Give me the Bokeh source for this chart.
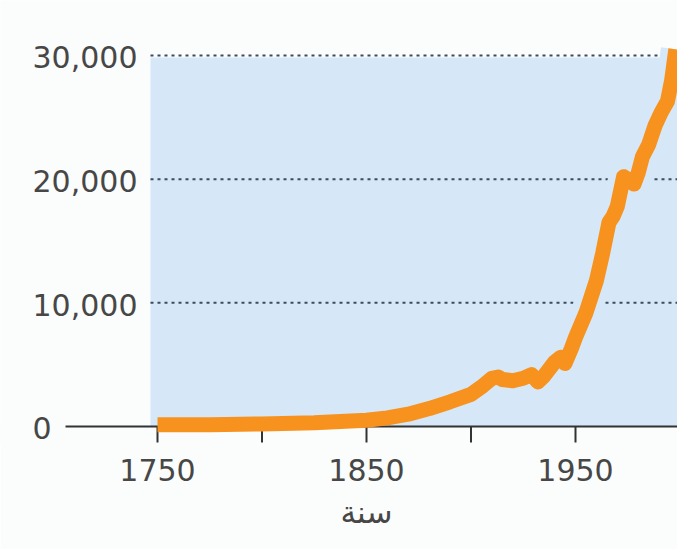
from bokeh.plotting import figure
from bokeh.models import Range1d, FixedTicker, Title
from bokeh.core.properties import value
from bokeh.embed import file_html
from bokeh.resources import INLINE

# ---- data ----
years = [1750, 1775, 1800, 1825, 1850, 1860, 1870, 1880, 1890, 1900, 1905, 1910,
         1913, 1915, 1920, 1925, 1929, 1932, 1935, 1940, 1943, 1945, 1948, 1950,
         1955, 1960, 1963, 1966, 1968, 1970, 1973, 1975, 1978, 1980, 1982, 1985,
         1988, 1991, 1994, 1996, 1998]
values = [150, 150, 200, 300, 500, 700, 1000, 1450, 2000, 2600, 3200, 3900,
          4000, 3800, 3700, 3900, 4200, 3600, 4100, 5200, 5600, 5100, 6300, 7200,
          9200, 11800, 14000, 16500, 17000, 17800, 20200, 20000, 19600, 20500, 21800, 22800,
          24300, 25400, 26300, 28000, 30500]
x_ticks = [1750, 1800, 1850, 1900, 1950]
x_tick_labels = {1800: "", 1900: ""}
y_ticks = [0, 10000, 20000, 30000]
y_tick_labels = ["0", "10,000", "20,000", "30,000"]
x_title = "سنة"

BLUE = "#d6e8f8"
BG = "#fbfcfc"
ORANGE = "#f7921e"
TXT = "#474747"
DARK = "#333333"

p = figure(width=677, height=549, output_backend="svg", toolbar_location=None,
           x_range=Range1d(1674.88, 1998.8), y_range=Range1d(-1375, 34447),
           y_axis_location=None, min_border_left=0, min_border_right=0,
           min_border_top=0, min_border_bottom=106,
           background_fill_color=BG, border_fill_color=BG)
p.outline_line_color = None
p.grid.visible = False

# blue panel
p.quad(left=1746.65, right=2010, bottom=0, top=29838, fill_color=BLUE, line_color=None)

# dotted grid lines
for yv in y_ticks[1:]:
    p.segment(x0=1746.65, y0=yv, x1=2010, y1=yv, line_color="#3d4b5c",
              line_width=2, line_dash="3 4")

# halo under curve
p.line(years, values, line_color=BLUE, line_width=30, line_join="round", line_cap="butt")
# page colour below the zero line
p.quad(left=1670, right=2010, bottom=-5000, top=0, fill_color=BG, line_color=None)

# baseline and ticks
p.segment(x0=1705.98, y0=0, x1=2010, y1=0, line_color=DARK, line_width=2)
p.segment(x0=x_ticks, y0=[0] * len(x_ticks), x1=x_ticks, y1=[-1294] * len(x_ticks),
          line_color=DARK, line_width=2)

# main curve
p.line(years, values, line_color=ORANGE, line_width=15, line_join="round", line_cap="butt")

# y tick labels (left aligned)
p.text(x=[1690.19] * len(y_ticks), y=y_ticks, text=y_tick_labels, y_offset=2,
       text_align="left", text_baseline="middle",
       text_font=value("DejaVu Sans"), text_font_size="30px", text_color=TXT)

# x axis (labels only)
ax = p.xaxis[0]
ax.ticker = FixedTicker(ticks=x_ticks)
ax.major_label_overrides = x_tick_labels
ax.axis_line_color = None
ax.major_tick_line_color = None
ax.major_tick_in = 0
ax.major_tick_out = 0
ax.minor_tick_line_color = None
ax.major_label_standoff = 15
ax.major_label_text_font = "DejaVu Sans"
ax.major_label_text_font_size = "30px"
ax.major_label_text_color = TXT

p.add_layout(Title(text=x_title, align="left", offset=340, standoff=16,
                   text_font="DejaVu Sans", text_font_size="31px",
                   text_font_style="normal", text_color=TXT), "below")

open("out.html", "w").write(file_html(p, INLINE))
